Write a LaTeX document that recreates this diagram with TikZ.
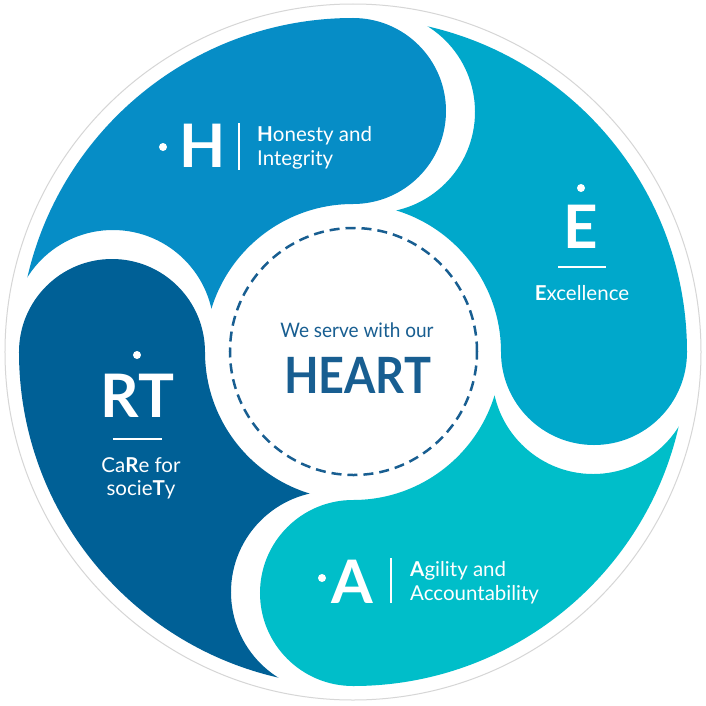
\documentclass[tikz,border=0pt]{standalone}
\usepackage{fontspec}
\setmainfont{Lato}
\definecolor{cH}{RGB}{6,141,198}
\definecolor{cE}{RGB}{0,168,203}
\definecolor{cA}{RGB}{0,190,201}
\definecolor{cRT}{RGB}{0,96,150}
\definecolor{cD}{RGB}{24,94,145}
\definecolor{cRing}{RGB}{214,214,214}
\tikzset{
  biglet/.style={font=\bfseries\fontsize{60}{60}\selectfont, text=white, inner sep=0pt},
  lbl/.style={font=\fontsize{20.5}{24}\selectfont, text=white, inner sep=0pt},
  wline/.style={draw=white, line width=1.1pt},
  wdot/.style={fill=white}
}
\begin{document}
\begin{tikzpicture}[x=1pt,y=1pt]
\useasboundingbox (-353,-353) rectangle (353,352);
\fill[white] (-353,-353) rectangle (353,352);
\draw[cRing, line width=1pt] (0,0) circle (348);
% lobes
\foreach \t/\c in {90/cH,180/cRT,270/cA,360/cE} {
  \begin{scope}
    \clip (-400,-400) -- (400,-400) -- (400,400) -- (-400,400) -- cycle
          ({\t+85}:241) ++(101,0) arc[start angle=0, end angle=-360, radius=101];
    \fill[\c] (\t:148) -- (\t:334) arc[start angle=\t, end angle=\t+90, radius=334]
          -- ({\t+90}:148) arc[start angle=\t+90, end angle=\t, radius=148] -- cycle;
    \fill[\c] (\t:241) circle (93);
  \end{scope}
}
% center
\draw[cD, line width=2.5pt, dash pattern=on 10pt off 6pt] (0.5,0.5) circle (123.5);
\node[font=\fontsize{20}{24}\selectfont, text=cD, inner sep=0pt, anchor=base] (serve) at (4,15) {\scalebox{0.95}[1]{We serve with our}};
\node[font=\bfseries\fontsize{50}{50}\selectfont, text=cD, inner sep=0pt, anchor=base] (heart) at (4.5,-41) {\scalebox{0.9}[1]{HEART}};
% H
\fill[wdot] (-190,205) circle (4);
\node[biglet] (hL) at (-150.5,206) {H};
\coordinate (hv1) at (-114,229);
\coordinate (hv2) at (-114,182);
\draw[wline] (hv1) -- (hv2);
\node[lbl, anchor=base west] (h1) at (-96,211) {\textbf{H}onesty and};
\node[lbl, anchor=base west] (h2) at (-96,187) {Integrity};
% E
\fill[wdot] (228,164) circle (4);
\node[biglet] (eL) at (227.5,125.5) {E};
\coordinate (el1) at (205,85);
\coordinate (el2) at (253,85);
\draw[wline] (el1) -- (el2);
\node[lbl, anchor=base] (e1) at (229,52) {\textbf{E}xcellence};
% RT
\fill[wdot] (-216,-3) circle (4);
\node[biglet] (rL) at (-215.5,-44) {RT};
\coordinate (rl1) at (-240,-87);
\coordinate (rl2) at (-191,-87);
\draw[wline] (rl1) -- (rl2);
\node[lbl, anchor=base] (r1) at (-212,-120) {Ca\textbf{R}e for};
\node[lbl, anchor=base] (r2) at (-212,-143) {socie\textbf{T}y};
% A
\fill[wdot] (-31,-226) circle (4);
\node[biglet] (aL) at (-1,-230) {A};
\coordinate (av1) at (38,-206);
\coordinate (av2) at (38,-251);
\draw[wline] (av1) -- (av2);
\node[lbl, anchor=base west] (a1) at (57,-224) {\textbf{A}gility and};
\node[lbl, anchor=base west] (a2) at (57,-248) {Accountability};
\end{tikzpicture}
\end{document}
